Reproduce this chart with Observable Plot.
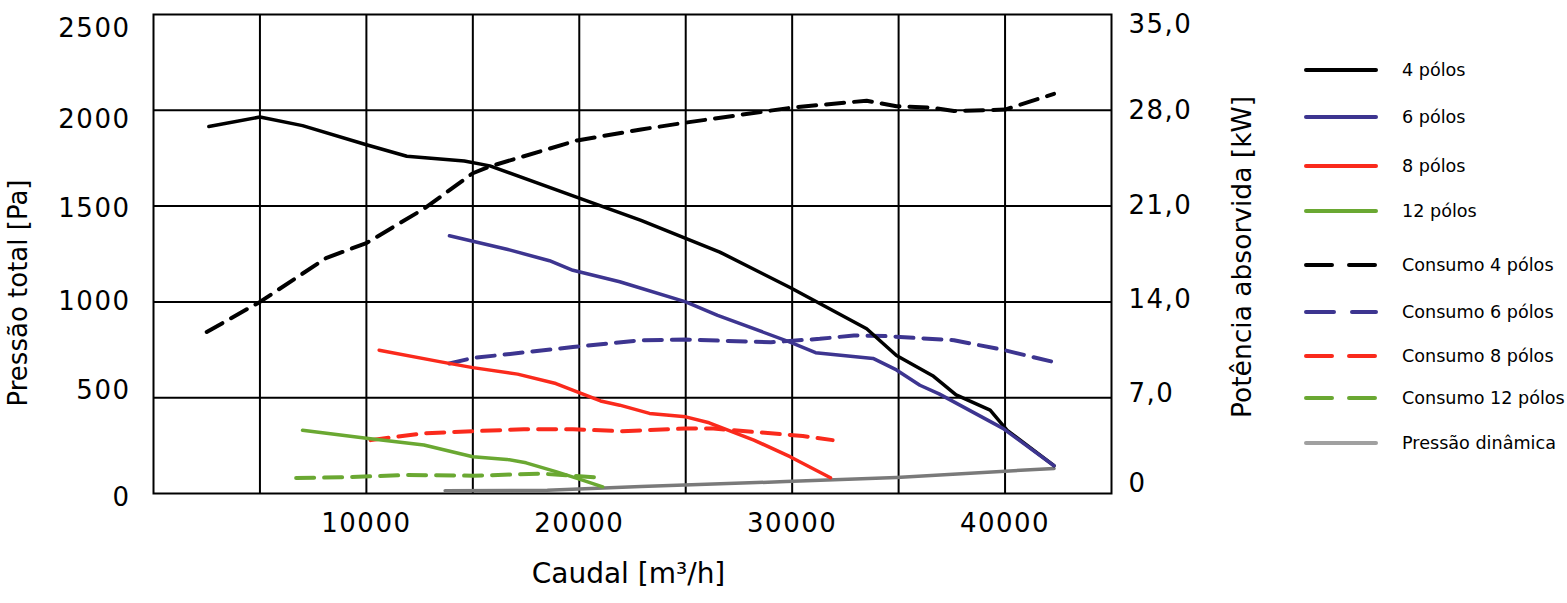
<!DOCTYPE html>
<html>
<head>
<meta charset="utf-8">
<script src="https://cdn.jsdelivr.net/npm/d3@7"></script>
<script src="https://cdn.jsdelivr.net/npm/@observablehq/plot@0.6"></script>
<style>
  html, body { margin: 0; padding: 0; background: #fff; }
  #wrap { position: relative; width: 1567px; height: 603px; overflow: hidden; }
  #legend { position: absolute; left: 1304px; top: 0; font-family: "DejaVu Sans", sans-serif; font-size: 17.6px; color: #000; }
  .item { position: absolute; left: 0; display: flex; align-items: center; white-space: nowrap; }
  .item svg { width: 74px; height: 8px; margin-right: 24px; flex: none; }
  #chart svg [aria-label$="tick label"] text { letter-spacing: 1.5px; }
</style>
</head>
<body>
<div id="wrap"><div id="chart"></div><div id="legend"></div></div>
<script>
// ---- data (x: Caudal m³/h; pressure in Pa; consumption in kW) ----
const flow4  = [2600, 5000, 7000, 10000, 11900, 14600, 15800, 19900, 22900, 26600, 29900, 33500, 34900, 36600, 37700, 39300, 40100, 42300];
const pres4  = [1915, 1965, 1920, 1820, 1760, 1735, 1710, 1545, 1425, 1260, 1075, 860, 720, 615, 515, 435, 330, 145];

const flow6  = [13900, 16600, 18600, 19700, 21900, 25000, 26500, 29900, 31100, 33800, 34900, 36000, 36900, 39900, 42300];
const pres6  = [1345, 1275, 1215, 1165, 1105, 1000, 930, 790, 735, 705, 645, 565, 520, 340, 145];

const flow8  = [10600, 13500, 15000, 17100, 18900, 19900, 21000, 21900, 23300, 25000, 26100, 28200, 29900, 31800];
const pres8  = [748, 687, 657, 623, 574, 530, 483, 461, 418, 400, 369, 279, 192, 82];

const flow12 = [7000, 10000, 12700, 15000, 16600, 17500, 18900, 19900, 21100];
const pres12 = [330, 288, 253, 192, 178, 160, 114, 79, 35];

const flowC4 = [2500, 5000, 8100, 10000, 12700, 15000, 15800, 19900, 22900, 25000, 30000, 33500, 34900, 36500, 37600, 40000, 42300];
const kwC4   = [11.8, 14.0, 17.2, 18.3, 20.8, 23.4, 23.9, 25.8, 26.6, 27.1, 28.2, 28.7, 28.3, 28.2, 27.95, 28.05, 29.2];

const flowC6 = [13900, 15000, 19700, 22900, 25000, 29000, 31300, 32900, 34400, 37600, 39900, 42300];
const kwC6   = [9.5, 9.9, 10.7, 11.2, 11.25, 11.05, 11.3, 11.55, 11.5, 11.2, 10.5, 9.6];

const flowC8 = [10200, 12700, 15000, 17400, 19700, 22000, 25000, 26300, 28200, 30500, 31900];
const kwC8   = [3.9, 4.4, 4.55, 4.7, 4.7, 4.55, 4.75, 4.75, 4.5, 4.2, 3.9];

const flowC12 = [6700, 8800, 11900, 15000, 18200, 21100];
const kwC12   = [1.13, 1.18, 1.35, 1.3, 1.45, 1.15];

const flowD = [13700, 18500, 22900, 29700, 34900, 42300];
const presD = [15, 17, 36, 62, 84, 131];

const xTicks = [10000, 20000, 30000, 40000];
const yTicks = [0, 500, 1000, 1500, 2000, 2500];
const kwTicks = ["0", "7,0", "14,0", "21,0", "28,0", "35,0"];

const seriesNames = ["4 pólos", "6 pólos", "8 pólos", "12 pólos", "Consumo 4 pólos", "Consumo 6 pólos", "Consumo 8 pólos", "Consumo 12 pólos", "Pressão dinâmica"];
const seriesColors = ["#000000", "#3d3590", "#fa2a1c", "#6aa832", "#000000", "#3d3590", "#fa2a1c", "#6aa832", "#7a7a7a"];

// ---- label nudges (style) ----
const leftDy  = [4, -7, 0, 2.5, 9, 14];
const rightDy = [-9.5, -4, -2, 0, 0, 10];

// ---- build tables ----
const KW_MAX = 35, PA_MAX = 2500;
const zip = (xs, ys) => xs.map((x, i) => ({x, y: ys[i]}));
const zipKw = (xs, ks) => xs.map((x, i) => ({x, y: ks[i] * PA_MAX / KW_MAX}));

const solid = [
  [zip(flow4, pres4), seriesColors[0]],
  [zip(flow6, pres6), seriesColors[1]],
  [zip(flow8, pres8), seriesColors[2]],
  [zip(flow12, pres12), seriesColors[3]]
];
const dashed = [
  [zipKw(flowC4, kwC4), seriesColors[4]],
  [zipKw(flowC6, kwC6), seriesColors[5]],
  [zipKw(flowC8, kwC8), seriesColors[6]],
  [zipKw(flowC12, kwC12), seriesColors[7]]
];

const font = '"DejaVu Sans", sans-serif';

const marks = [
  Plot.gridX(d3.range(5000, 45000, 5000), {stroke: "#000", strokeOpacity: 1, strokeWidth: 2}),
  Plot.gridY(d3.range(500, 2500, 500), {stroke: "#000", strokeOpacity: 1, strokeWidth: 2}),
  Plot.frame({stroke: "#000", strokeWidth: 2}),
  Plot.axisX(xTicks, {tickSize: 0, tickPadding: 20, fontSize: 26, label: null, tickFormat: d => String(d)}),
  ...yTicks.map((t, i) => Plot.axisY([t], {anchor: "left", tickSize: 0, tickPadding: 23, fontSize: 26, dy: leftDy[i], label: null, tickFormat: d => String(d)})),
  ...yTicks.map((t, i) => Plot.axisY([t], {anchor: "right", tickSize: 0, tickPadding: 17, fontSize: 26, dy: rightDy[i], label: null, tickFormat: () => kwTicks[i]})),
  Plot.text(["Caudal [m³/h]"], {frameAnchor: "bottom", textAnchor: "middle", dy: 89, dx: -4, fontSize: 28}),
  Plot.text(["Pressão total [Pa]"], {frameAnchor: "left", textAnchor: "middle", dx: -135, dy: 39, rotate: -90, fontSize: 26}),
  Plot.text(["Potência absorvida [kW]"], {frameAnchor: "right", textAnchor: "middle", dx: 131, dy: 3, rotate: -90, fontSize: 26.5}),
  Plot.line(zip(flowD, presD), {x: "x", y: "y", stroke: seriesColors[8], strokeWidth: 3.5}),
  ...dashed.map(([data, c]) => Plot.line(data, {x: "x", y: "y", stroke: c, strokeWidth: 4, strokeDasharray: "18,10"})),
  ...solid.map(([data, c]) => Plot.line(data, {x: "x", y: "y", stroke: c, strokeWidth: 3.5}))
];

const chart = Plot.plot({
  width: 1567,
  height: 603,
  marginLeft: 153,
  marginRight: 456,
  marginTop: 14,
  marginBottom: 110,
  style: {fontFamily: font, color: "#000", background: "#fff"},
  x: {domain: [0, 45000]},
  y: {domain: [0, 2500]},
  marks
});
document.getElementById("chart").appendChild(chart);

// ---- legend ----
const legendY = [70, 117, 166, 211, 265, 312, 356, 398, 443];
const legendColors = seriesColors.map((c, i) => i === 8 ? "#a0a0a0" : c);
const leg = document.getElementById("legend");
seriesNames.forEach((name, i) => {
  const item = document.createElement("div");
  item.className = "item";
  item.style.top = (legendY[i] - 12) + "px";
  item.style.height = "24px";
  const dash = (i >= 4 && i <= 7) ? (i === 5 ? ' stroke-dasharray="28,18"' : ' stroke-dasharray="26,17"') : "";
  item.innerHTML = `<svg viewBox="0 0 74 8"><line x1="2" y1="4" x2="72" y2="4" stroke="${legendColors[i]}" stroke-width="4" stroke-linecap="round"${dash}/></svg><span>${name}</span>`;
  leg.appendChild(item);
});
</script>
</body>
</html>
